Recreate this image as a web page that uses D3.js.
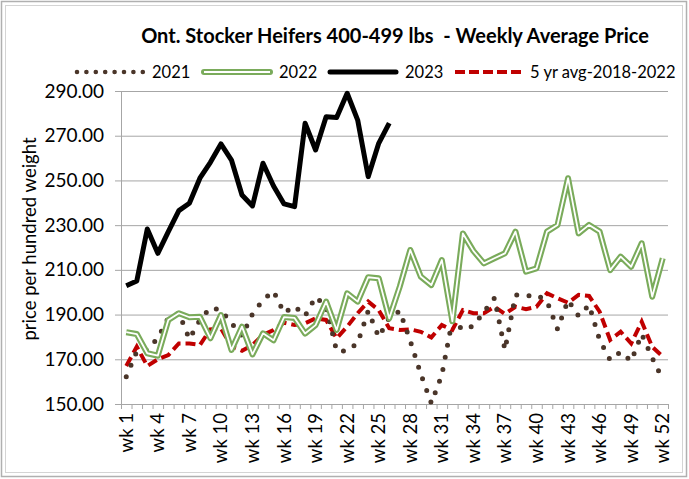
<!DOCTYPE html>
<html>
<head>
<meta charset="utf-8">
<script src="https://cdn.jsdelivr.net/npm/d3@7"></script>
<style>
  body { margin: 0; background: #fff; }
  svg text { font-family: Lato, "Open Sans", sans-serif; fill: #000; }
</style>
</head>
<body>
<svg id="chart" width="689" height="479"></svg>
<script>
const weeks = d3.range(1, 53).map(i => 'wk ' + i);
const tickLabels = weeks.filter((d, i) => i % 3 === 0);
const yTicks = [150, 170, 190, 210, 230, 250, 270, 290];

const price2021 = [162.2, 173.5, 174.2, 179.5, 188.5, 190.7, 179.1, 187.6, 193, 192,
  186.2, 180.4, 190.3, 196.5, 200.5, 190.7, 193.8, 189.4, 197.9, 193.7,
  173.7, 173.7, 177.3, 191.6, 180, 188.5, 191.6, 178.2, 163.4, 150.4,
  163, 187.6, 183.1, 184.9, 191.2, 197.4, 174.2, 198.8, 198.3, 198.8,
  196, 183.5, 196.5, 189.4, 194.3, 178.6, 169.7, 173.3, 169.2, 181.3,
  170.6, 161];
const price2022 = [182.1, 181.3, 172.7, 171.6, 187.6, 190.6, 188.8, 189, 179.4, 189.8,
  174.2, 184.6, 172.2, 181.6, 178.5, 188.9, 188.5, 181.5, 185.3, 195.8,
  183.1, 199.5, 195.8, 206.7, 206.2, 188.3, 202.5, 218.9, 207, 203.2,
  214.4, 187, 226.3, 218.5, 212.9, 215.2, 217.4, 227.1, 209.2, 210.7,
  227.1, 230.1, 251, 226.3, 230.1, 227.1, 209.9, 215.9, 211.4, 221.9,
  198, 215.2];
const price2023 = [202.9, 205, 228.3, 217.4, 227.1, 236.5, 239.8, 251, 258.1, 266.3,
  259.1, 243.5, 238.6, 257.7, 247.5, 239.5, 238.3, 275.6, 263.6, 278.5,
  278.2, 289, 277, 251.7, 266.6, 275.6];
const avg5yr = [167, 175.6, 167, 170, 171.9, 177.1, 177.1, 176.4, 183.4, 183.9,
  175.6, 173.8, 176.4, 180.9, 183.1, 186.4, 185.3, 186.1, 188.3, 187.6,
  179.4, 184.6, 190.6, 195.8, 192, 183.9, 183.1, 183.4, 182.3, 179.8,
  185.3, 183.1, 192, 190.6, 190.6, 193.5, 190.3, 193.5, 192.4, 193.5,
  199.5, 197.3, 195.3, 198.8, 198.3, 191.3, 178.6, 182.3, 177.1, 186.8,
  175.6, 171.2];

const svg = d3.select('#chart');
const plotLeft = 121, plotRight = 668, plotTop = 91, plotBottom = 404;

// outer frame
svg.append('rect').attr('x', 1.5).attr('y', 1.5).attr('width', 685).attr('height', 475)
  .attr('fill', 'none').attr('stroke', '#b0b0b0').attr('stroke-width', 1.5);
svg.append('rect').attr('x', 5.5).attr('y', 5.5).attr('width', 677).attr('height', 467)
  .attr('fill', 'none').attr('stroke', '#d4d4d4').attr('stroke-width', 1);

const x = d3.scaleBand().domain(weeks).range([plotLeft, plotRight]);
const xEdge = d3.scaleLinear().domain([0, 52]).range([plotLeft, plotRight]);
const y = d3.scaleLinear().domain([150, 290]).range([plotBottom, plotTop]);
const cx = d => x(d) + x.bandwidth() / 2;

// gridlines
svg.append('g')
  .attr('transform', `translate(${plotLeft},0)`)
  .call(d3.axisLeft(y).tickValues(yTicks).tickSize(-(plotRight - plotLeft)).tickFormat(''))
  .call(g => g.select('.domain').remove())
  .call(g => g.selectAll('line').attr('stroke', '#a6a6a6'));

// y axis
svg.append('g')
  .attr('transform', `translate(${plotLeft},0)`)
  .call(d3.axisLeft(y).tickValues(yTicks).tickSize(6).tickPadding(11).tickFormat(d3.format('.2f')))
  .call(g => g.select('.domain').attr('stroke', '#a6a6a6'))
  .call(g => g.selectAll('line').attr('stroke', '#a6a6a6'))
  .call(g => g.selectAll('text').attr('font-size', 19).attr('font-family', 'Lato'));

// x axis ticks at band edges
svg.append('g')
  .attr('transform', `translate(0,${plotBottom})`)
  .call(d3.axisBottom(xEdge).ticks(52).tickSize(5).tickFormat(''))
  .call(g => g.select('.domain').attr('stroke', '#a6a6a6'))
  .call(g => g.selectAll('line').attr('stroke', '#a6a6a6'));

// x axis labels
svg.append('g')
  .attr('transform', `translate(0,${plotBottom})`)
  .call(d3.axisBottom(x).tickValues(tickLabels).tickSize(0))
  .call(g => g.select('.domain').remove())
  .call(g => g.selectAll('text')
    .attr('font-size', 18.5).attr('font-family', 'Lato')
    .attr('text-anchor', 'end')
    .attr('transform', 'rotate(-90)')
    .attr('x', -9).attr('y', 0).attr('dy', '0.35em'));

// y title
svg.append('text')
  .attr('transform', 'translate(36,239) rotate(-90)')
  .attr('text-anchor', 'middle')
  .attr('font-size', 18.5)
  .text('price per hundred weight');

// title
svg.append('text')
  .attr('x', 395).attr('y', 43)
  .attr('text-anchor', 'middle')
  .attr('font-size', 20).attr('font-weight', 'bold')
  .style('white-space', 'pre')
  .text('Ont. Stocker Heifers 400-499 lbs  - Weekly Average Price');

const line = d3.line().x((d, i) => cx(weeks[i])).y(d => y(d));

const plot = svg.append('g');

plot.append('path').datum(avg5yr)
  .attr('d', line).attr('fill', 'none')
  .attr('stroke', '#c00000').attr('stroke-width', 4)
  .attr('stroke-dasharray', '10 5');

plot.append('path').datum(price2021)
  .attr('d', line).attr('fill', 'none')
  .attr('stroke', '#4a3529').attr('stroke-width', 5)
  .attr('stroke-linecap', 'round')
  .attr('stroke-dasharray', '0 12.3');

plot.append('path').datum(price2022)
  .attr('d', line).attr('fill', 'none')
  .attr('stroke', '#7aab5b').attr('stroke-width', 6)
  .attr('stroke-linejoin', 'round');
plot.append('path').datum(price2022)
  .attr('d', line).attr('fill', 'none')
  .attr('stroke', '#fff').attr('stroke-width', 1.8)
  .attr('stroke-linejoin', 'round');

plot.append('path').datum(price2023)
  .attr('d', line).attr('fill', 'none')
  .attr('stroke', '#000').attr('stroke-width', 5)
  .attr('stroke-linejoin', 'round');

// legend
const legendItems = [
  {name: '2021', x: 77},
  {name: '2022', x: 204},
  {name: '2023', x: 330},
  {name: '5 yr avg-2018-2022', x: 455}
];
const ly = 72;
const lg = svg.append('g');
legendItems.forEach((d, i) => {
  const seg = lg.append('line')
    .attr('x1', d.x).attr('x2', d.x + 66).attr('y1', ly).attr('y2', ly)
    .attr('fill', 'none');
  if (i === 0) {
    seg.attr('stroke', '#4a3529').attr('stroke-width', 4.6).attr('stroke-linecap', 'round')
      .attr('stroke-dasharray', '0 9.4');
  } else if (i === 1) {
    seg.attr('stroke', '#7aab5b').attr('stroke-width', 6).attr('stroke-linecap', 'round');
    lg.append('line')
      .attr('x1', d.x).attr('x2', d.x + 66).attr('y1', ly).attr('y2', ly)
      .attr('stroke', '#fff').attr('stroke-width', 1.8);
  } else if (i === 2) {
    seg.attr('stroke', '#000').attr('stroke-width', 5).attr('stroke-linecap', 'round');
  } else {
    seg.attr('stroke', '#c00000').attr('stroke-width', 4).attr('stroke-dasharray', '10 4');
  }
  lg.append('text')
    .attr('x', d.x + 75).attr('y', ly).attr('dy', '0.35em')
    .attr('font-size', 16.5)
    .text(d.name);
});
</script>
</body>
</html>
